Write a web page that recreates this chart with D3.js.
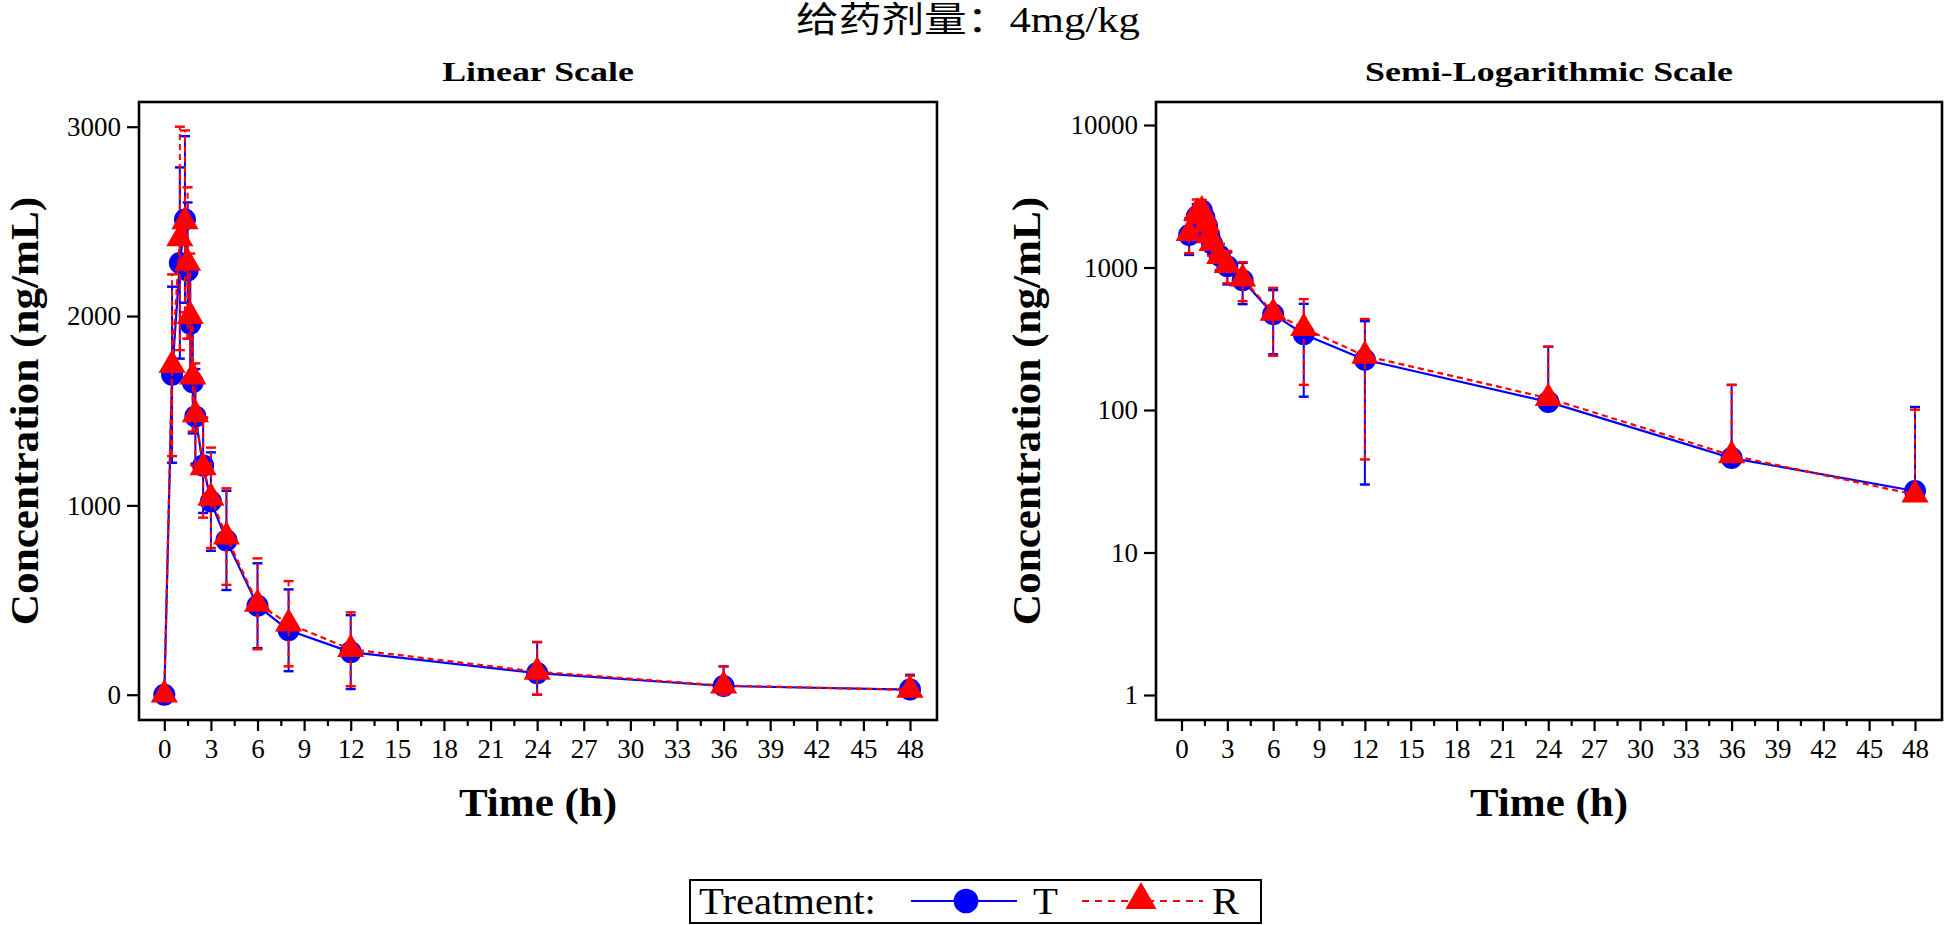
<!DOCTYPE html>
<html><head><meta charset="utf-8">
<script src="https://cdn.jsdelivr.net/npm/d3@7"></script>
<style>
body{margin:0;background:#fff}
svg{display:block}
text{font-family:"Liberation Serif","Times New Roman","Noto Sans CJK SC",serif;fill:#000}
</style>
</head><body>
<svg id="c" width="1944" height="925"></svg>
<script>
// ---- data ----
const times = [0, 0.5, 1, 1.33, 1.5, 1.67, 1.83, 2, 2.5, 3, 4, 6, 8, 12, 24, 36, 48];
const tMean = [0, 1690, 2280, 2510, 2240, 1960, 1650, 1470, 1210, 1020, 815, 470, 340, 225, 114, 46, 27];
const tSD   = [0, 465, 505, 440, 360, 310, 270, 250, 250, 260, 262, 224, 216, 195, 164, 104, 78];
const rMean = [0, 1740, 2410, 2500, 2280, 2000, 1680, 1480, 1200, 1040, 835, 480, 375, 240, 121, 48, 25.5];
const rSD   = [0, 480, 590, 480, 400, 330, 290, 270, 265, 265, 255, 240, 225, 195, 157, 102, 75];
const xTickValues = [0,3,6,9,12,15,18,21,24,27,30,33,36,39,42,45,48];
const xMinorValues = [1.5,4.5,7.5,10.5,13.5,16.5,19.5,22.5,25.5,28.5,31.5,34.5,37.5,40.5,43.5,46.5];
const linTicks = [0,1000,2000,3000];
const logTicks = [1,10,100,1000,10000];
const titleText = "给药剂量：4mg/kg";
const panelTitles = ["Linear Scale", "Semi-Logarithmic Scale"];
const xTitle = "Time (h)";
const yTitle = "Concentration (ng/mL)";
const legendTitle = "Treatment:";
const seriesNames = ["T", "R"];

const BLUE = "#0000ff", RED = "#ff0000";
const svg = d3.select("#c");

function stext(parent, x, y, sx, size, weight, anchor, str) {
  return parent.append("text")
    .attr("transform", `translate(${x},${y}) scale(${sx},1)`)
    .attr("text-anchor", anchor).style("font-size", size + "px")
    .style("font-weight", weight).text(str);
}

// title
stext(svg, 968, 32, 1.22, 35, "normal", "middle", titleText);

const panels = [
  {type: "linear", L: 139, R: 937, T: 102, B: 720, xr: [164.3, 910], yr: [694.7, 126.7], yTitleX: 38},
  {type: "log", L: 1156, R: 1942, T: 102, B: 720, xr: [1181.5, 1915], yr: [695, 125], yTitleX: 1040}
];

panels.forEach((p, pi) => {
  const g = svg.append("g");
  const x = d3.scaleLinear().domain([0, 48]).range(p.xr);
  const y = p.type === "linear"
    ? d3.scaleLinear().domain([0, 3000]).range(p.yr)
    : d3.scaleLog().domain([1, 10000]).range(p.yr);

  // panel title
  stext(g, (p.L + p.R) / 2, 81, 1.33, 27, "bold", "middle", panelTitles[pi]);

  // axes
  const xAxis = d3.axisBottom(x).tickValues(xTickValues).tickSize(11).tickPadding(8).tickFormat(d3.format("d"));
  const xAx = g.append("g").attr("transform", `translate(0,${p.B})`).call(xAxis);
  const xMin = d3.axisBottom(x).tickValues(xMinorValues).tickSize(6).tickFormat("");
  const xMn = g.append("g").attr("transform", `translate(0,${p.B})`).call(xMin);
  const yAxis = d3.axisLeft(y).tickValues(p.type === "linear" ? linTicks : logTicks)
    .tickSize(12).tickPadding(6).tickFormat(d3.format("d"));
  const yAx = g.append("g").attr("transform", `translate(${p.L},0)`).call(yAxis);
  [xAx, xMn, yAx].forEach(a => {
    a.select(".domain").remove();
    a.selectAll(".tick line").attr("stroke", "#000").attr("stroke-width", 2.2);
    a.selectAll(".tick text").style("font-size", "27px").attr("fill", "#000");
  });

  // frame
  g.append("rect").attr("x", p.L).attr("y", p.T).attr("width", p.R - p.L).attr("height", p.B - p.T)
    .attr("fill", "none").attr("stroke", "#000").attr("stroke-width", 2.6);

  // axis titles
  stext(g, (p.L + p.R) / 2, 816, 1.05, 41, "bold", "middle", xTitle);
  g.append("text").attr("transform", `translate(${p.yTitleX},${(p.T + p.B) / 2}) rotate(-90) scale(1.08,1)`)
    .attr("text-anchor", "middle").style("font-size", "40px").style("font-weight", "bold").text(yTitle);

  const sgAll = g.append("g");

  function drawSeries(means, sds, color, dashed, marker) {
    const pts = times.map((t, i) => ({t, m: means[i], s: sds[i]}))
      .filter(d => p.type === "linear" || d.m > 0);
    const sg = sgAll.append("g");
    const dash = dashed ? "6,4" : null;
    // error bars (lower limit kept at or above zero)
    pts.forEach(d => {
      if (d.s <= 0) return;
      const hi = d.m + d.s, lo = d.m - d.s;
      const cx = x(d.t);
      const yHi = y(hi);
      let yLo;
      if (lo > 0) yLo = y(lo);
      else yLo = p.type === "linear" ? y(0) : null;
      sg.append("line").attr("x1", cx).attr("x2", cx).attr("y1", yLo === null ? y(d.m) : yLo).attr("y2", yHi)
        .attr("stroke", color).attr("stroke-width", 2).attr("stroke-dasharray", dash);
      sg.append("line").attr("x1", cx - 5).attr("x2", cx + 5).attr("y1", yHi).attr("y2", yHi)
        .attr("stroke", color).attr("stroke-width", 2.4);
      if (yLo !== null)
        sg.append("line").attr("x1", cx - 5).attr("x2", cx + 5).attr("y1", yLo).attr("y2", yLo)
          .attr("stroke", color).attr("stroke-width", 2.4);
    });
    // line
    const line = d3.line().x(d => x(d.t)).y(d => y(d.m));
    sg.append("path").datum(pts).attr("d", line).attr("fill", "none")
      .attr("stroke", color).attr("stroke-width", 2.2).attr("stroke-dasharray", dash);
    // markers
    const sym = marker === "circle" ? d3.symbol(d3.symbolCircle, 380) : d3.symbol(d3.symbolTriangle, 320);
    sg.selectAll("path.m").data(pts).join("path").attr("class", "m")
      .attr("transform", d => `translate(${x(d.t)},${y(d.m)})`)
      .attr("d", sym).attr("fill", color);
  }
  drawSeries(tMean, tSD, BLUE, false, "circle");
  drawSeries(rMean, rSD, RED, true, "triangle");
});

// legend
const lg = svg.append("g");
lg.append("rect").attr("x", 690).attr("y", 880).attr("width", 571).attr("height", 43)
  .attr("fill", "none").attr("stroke", "#000").attr("stroke-width", 2);
stext(lg, 699, 914, 1.07, 38, "normal", "start", legendTitle);
lg.append("line").attr("x1", 911).attr("x2", 1017).attr("y1", 901).attr("y2", 901).attr("stroke", BLUE).attr("stroke-width", 2.2);
lg.append("path").attr("transform", "translate(966,901)").attr("d", d3.symbol(d3.symbolCircle, 480)()).attr("fill", BLUE);
stext(lg, 1033, 914, 1.07, 38, "normal", "start", seriesNames[0]);
lg.append("line").attr("x1", 1082).attr("x2", 1203).attr("y1", 901).attr("y2", 901).attr("stroke", RED).attr("stroke-width", 2.2).attr("stroke-dasharray", "7,6");
lg.append("path").attr("transform", "translate(1141,900)").attr("d", d3.symbol(d3.symbolTriangle, 420)()).attr("fill", RED);
stext(lg, 1212, 914, 1.07, 38, "normal", "start", seriesNames[1]);
</script>
</body></html>
